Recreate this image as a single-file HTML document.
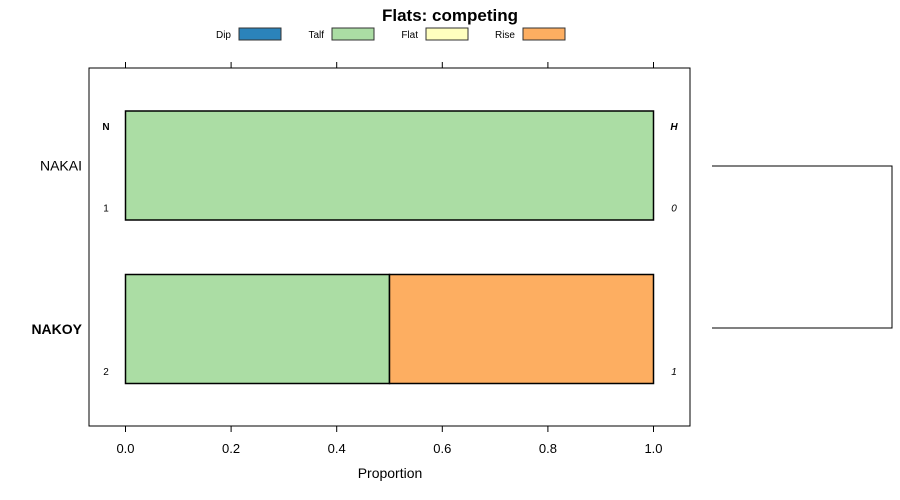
<!DOCTYPE html>
<html><head><meta charset="utf-8"><style>
body{margin:0;background:#fff}
svg{display:block;font-family:"Liberation Sans",Arial,sans-serif}
</style></head><body>
<svg id="c" width="900" height="500">
<text x="450" y="21" text-anchor="middle" font-size="17" font-weight="bold">Flats: competing</text>
<g id="legend"></g>
<rect x="89" y="68" width="601" height="358" fill="none" stroke="#000" stroke-width="1"/>
<g id="axes"></g>
<g id="bars"></g>
<text x="390" y="478" text-anchor="middle" font-size="14">Proportion</text>
<path d="M712,166 H892 V328 H712" fill="none" stroke="#000" stroke-width="1"/>
</svg>
<script>
const categories=["NAKAI","NAKOY"];
const seriesNames=["Dip","Talf","Flat","Rise"];
const colors=["#2b83ba","#abdda4","#ffffbf","#fdae61"];
const dipVals=[0,0];
const talfVals=[1,0.5];
const flatVals=[0,0];
const riseVals=[0,0.5];
const nVals=["1","2"];
const hVals=["0","1"];
const boldCat=[false,true];
const ticks=[0,0.2,0.4,0.6,0.8,1.0];
const tickLabels=["0.0","0.2","0.4","0.6","0.8","1.0"];
const NS="http://www.w3.org/2000/svg";
const svg=document.getElementById('c');
function x(v){return 125.5+v*528;}
function yc(i){return 165.5+i*163.5;}
function mk(tag,attrs,parent,text){const e=document.createElementNS(NS,tag);for(const k in attrs)e.setAttribute(k,attrs[k]);if(text!==undefined)e.textContent=text;parent.appendChild(e);return e;}
const lg=document.getElementById('legend');
const lx=[239,332,426,523];
seriesNames.forEach((n,i)=>{
 const t=mk('text',{x:lx[i]-8,y:38,'text-anchor':'end','font-size':10},lg,n);
 
 
 const r=mk('rect',{x:lx[i],y:28,width:42,height:12,fill:colors[i],stroke:'#333'},lg);
 
 
});
const ax=document.getElementById('axes');
ticks.forEach((v,i)=>{
 const l1=mk('line',{x1:x(v),x2:x(v),y1:62,y2:68,stroke:'#000'},ax);
 
 
 const l2=mk('line',{x1:x(v),x2:x(v),y1:426,y2:432,stroke:'#000'},ax);
 
 
 const t=mk('text',{x:x(v),y:453,'text-anchor':'middle','font-size':13},ax,tickLabels[i]);
 
 
});
const hN=mk('text',{x:106,y:130,'text-anchor':'middle','font-size':10,'font-weight':'bold'},ax,'N');


const hH=mk('text',{x:674,y:130,'text-anchor':'middle','font-size':10,'font-weight':'bold','font-style':'italic'},ax,'H');


const bg=document.getElementById('bars');
const vals=[dipVals,talfVals,flatVals,riseVals];
categories.forEach((c,i)=>{
 const cy=yc(i);
 const t=mk('text',{x:82,y:cy+5,'text-anchor':'end','font-size':14,'font-weight':boldCat[i]?'bold':'normal'},bg,c);
 
 
 let acc=0;
 vals.forEach((s,j)=>{
  const v=s[i]; if(v<=0)return;
  const r=mk('rect',{x:x(acc),y:cy-54.5,width:x(acc+v)-x(acc),height:109,fill:colors[j],stroke:'#000','stroke-width':1.5},bg);
  
  
  acc+=v;
 });
 const n=mk('text',{x:106,y:cy+46,'text-anchor':'middle','font-size':10},bg,nVals[i]);
 
 
 const h=mk('text',{x:674,y:cy+46,'text-anchor':'middle','font-size':10,'font-style':'italic'},bg,hVals[i]);
 
 
});
</script>
</body></html>
